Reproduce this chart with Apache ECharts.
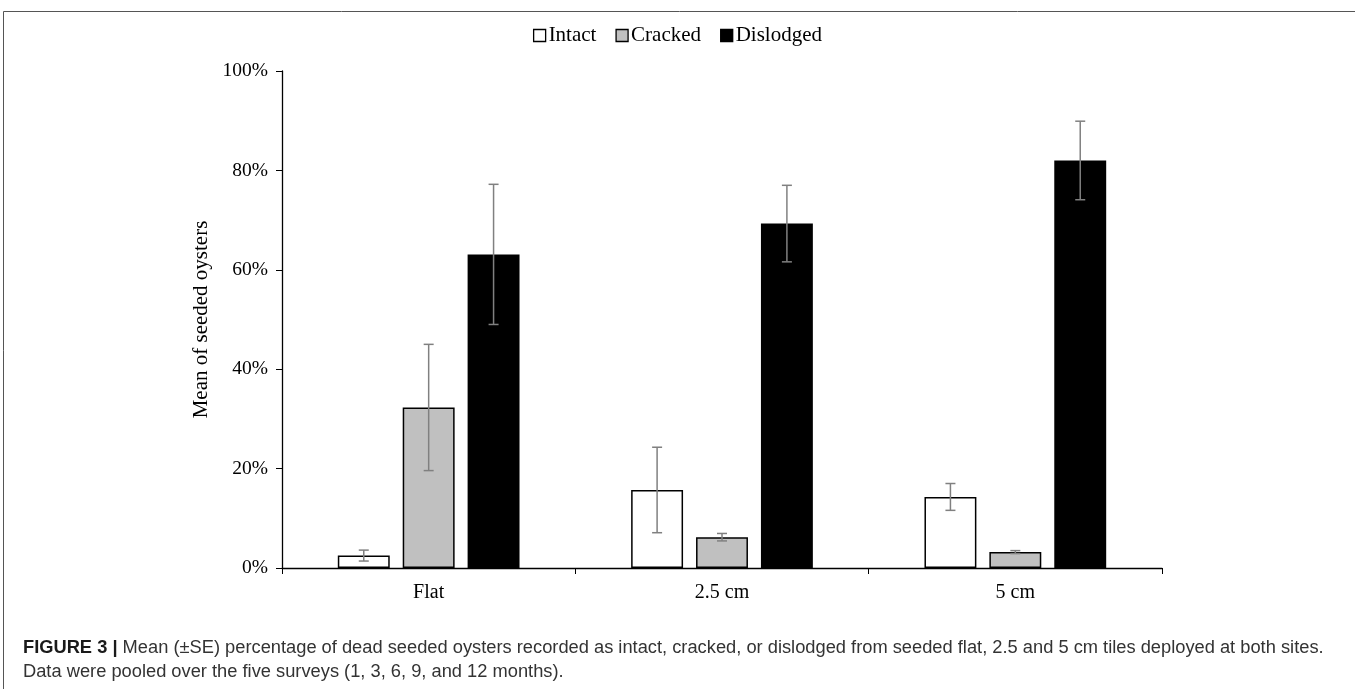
<!DOCTYPE html>
<html>
<head>
<meta charset="utf-8">
<script src="https://cdn.jsdelivr.net/npm/echarts@6/dist/echarts.min.js"></script>
<style>
html,body{margin:0;padding:0;background:#fff;}
#chart{width:1355px;height:689px;}
</style>
</head>
<body>
<div id="chart"></div>
<script>
const categories = ['Flat', '2.5 cm', '5 cm'];
const seriesNames = ['Intact', 'Cracked', 'Dislodged'];
const intact = [2.5, 15.7, 14.3];
const intactSE = [1.1, 8.6, 2.7];
const cracked = [32.3, 6.2, 3.2];
const crackedSE = [12.7, 0.75, 0.3];
const dislodged = [63.1, 69.3, 82.0];
const dislodgedSE = [14.1, 7.7, 7.9];
const yTicks = [0, 20, 40, 60, 80, 100];

const fills = ['#ffffff', '#c0c0c0', '#000000'];
const means = [intact, cracked, dislodged];
const ses = [intactSE, crackedSE, dislodgedSE];

const BAR_FRAC = 0.177;
const GAP = 0.25;

const chart = echarts.init(document.getElementById('chart'), null, {renderer: 'canvas'});

const barSeries = seriesNames.map((n, i) => ({
  name: n,
  type: 'bar',
  data: means[i],
  barWidth: (BAR_FRAC * 100) + '%',
  barGap: (GAP * 100) + '%',
  itemStyle: {color: fills[i], borderColor: '#000', borderWidth: i === 2 ? 0 : 1.5},
  emphasis: {disabled: true},
  z: 2
}));

const errSeries = seriesNames.map((n, i) => ({
  name: n + ' SE',
  type: 'custom',
  data: categories.map((c, k) => [k, means[i][k] - ses[i][k], means[i][k] + ses[i][k]]),
  z: 5,
  silent: true,
  renderItem: function (params, api) {
    const k = api.value(0);
    const band = api.size([1, 0])[0];
    const bw = band * BAR_FRAC;
    const off = (i - 1) * bw * (1 + GAP);
    const lo = api.coord([k, api.value(1)]);
    const hi = api.coord([k, api.value(2)]);
    const x = lo[0] + off;
    const cap = 5;
    const st = {stroke: '#808080', lineWidth: 1.5};
    return {
      type: 'group',
      children: [
        {type: 'line', shape: {x1: x, y1: lo[1], x2: x, y2: hi[1]}, style: st},
        {type: 'line', shape: {x1: x - cap, y1: lo[1], x2: x + cap, y2: lo[1]}, style: st},
        {type: 'line', shape: {x1: x - cap, y1: hi[1], x2: x + cap, y2: hi[1]}, style: st}
      ]
    };
  }
}));

const serif = '"Liberation Serif", "Times New Roman", serif';
const sans = '"Liberation Sans", Arial, Helvetica, sans-serif';

chart.setOption({
  animation: false,
  backgroundColor: '#fff',
  legend: {
    top: 20,
    left: 'center',
    itemWidth: 12,
    itemHeight: 12,
    itemGap: 19,
    icon: 'rect',
    textStyle: {fontFamily: serif, fontSize: 21, color: '#000', padding: [0, 0, 0, -2]},
    data: seriesNames.map((n, i) => ({name: n, itemStyle: {color: fills[i], borderColor: '#000', borderWidth: 1.3}}))
  },
  grid: {left: 282, right: 193, top: 71, bottom: 121, containLabel: false},
  xAxis: {
    type: 'category',
    data: categories,
    axisLine: {lineStyle: {color: '#000', width: 1.3}},
    axisTick: {show: true, length: 6, lineStyle: {color: '#000'}},
    axisLabel: {fontFamily: serif, fontSize: 20, color: '#000', margin: 15},
    splitLine: {show: false}
  },
  yAxis: {
    type: 'value',
    min: yTicks[0],
    max: yTicks[yTicks.length - 1],
    interval: yTicks[1] - yTicks[0],
    name: 'Mean of seeded oysters',
    nameLocation: 'middle',
    nameGap: 66,
    nameRotate: 90,
    nameTextStyle: {fontFamily: serif, fontSize: 21, color: '#000'},
    axisLine: {show: true, lineStyle: {color: '#000', width: 1.3}},
    axisTick: {show: true, length: 6, lineStyle: {color: '#000'}},
    axisLabel: {fontFamily: serif, fontSize: 19.5, color: '#000', margin: 14, formatter: v => v + '%'},
    splitLine: {show: false}
  },
  series: barSeries.concat(errSeries),
  graphic: [
    {type: 'rect', left: 1, top: 9, shape: {width: 1352, height: 700}, style: {fill: 'none', stroke: '#555', lineWidth: 1}, silent: true},
    {
      type: 'text', left: 23, top: 636,
      style: {
        text: '{b|FIGURE 3 |} Mean (±SE) percentage of dead seeded oysters recorded as intact, cracked, or dislodged from seeded flat, 2.5 and 5 cm tiles deployed at both sites.\nData were pooled over the five surveys (1, 3, 6, 9, and 12 months).',
        font: '18.3px ' + sans,
        fill: '#333',
        lineHeight: 24,
        rich: {b: {fontWeight: 'bold', fill: '#1a1a1a', fontSize: 18.3, fontFamily: sans}}
      }
    }
  ]
});
</script>
</body>
</html>
